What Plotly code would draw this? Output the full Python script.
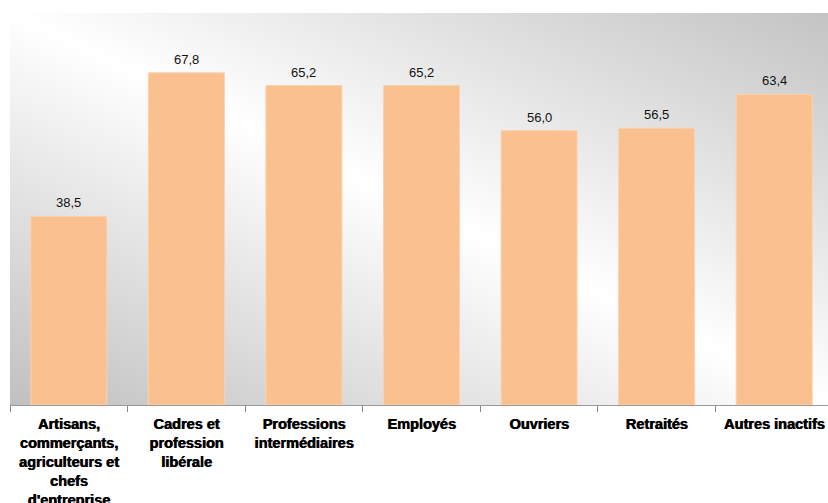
import base64
import plotly.graph_objects as go

categories = [
    "Artisans,<br>commerçants,<br>agriculteurs et<br>chefs<br>d'entreprise",
    "Cadres et<br>profession<br>libérale",
    "Professions<br>intermédiaires",
    "Employés",
    "Ouvriers",
    "Retraités",
    "Autres inactifs",
]
values = [38.5, 67.8, 65.2, 65.2, 56.0, 56.5, 63.4]

svg = (
    "<svg xmlns='http://www.w3.org/2000/svg' width='400' height='200' preserveAspectRatio='none'>"
    "<defs><linearGradient id='g' x1='0' y1='1' x2='1' y2='0'>"
    "<stop offset='0' stop-color='#c0c0c0'/>"
    "<stop offset='0.5' stop-color='#ffffff'/>"
    "<stop offset='1' stop-color='#c3c3c3'/>"
    "</linearGradient></defs>"
    "<rect width='400' height='200' fill='url(#g)'/></svg>"
)
bg_src = "data:image/svg+xml;base64," + base64.b64encode(svg.encode()).decode()

fig = go.Figure()
fig.add_trace(go.Bar(
    x=categories,
    y=values,
    width=0.646,
    marker=dict(color="#FAC090", line=dict(color="#FBD2AE", width=1)),
    hoverinfo="skip",
))

for c, v in zip(categories, values):
    fig.add_annotation(
        x=c, y=v, xref="x", yref="y",
        text=f"{v:.1f}".replace(".", ","),
        showarrow=False, yanchor="bottom", yshift=4,
        font=dict(family="Liberation Sans, Arial, sans-serif", size=13, color="#111111"),
    )

fig.update_layout(
    width=833,
    height=503,
    margin=dict(l=10, r=0, t=13, b=98, autoexpand=False),
    paper_bgcolor="white",
    plot_bgcolor="rgba(0,0,0,0)",
    showlegend=False,
    images=[dict(
        source=bg_src, xref="paper", yref="paper", x=0, y=1,
        sizex=1, sizey=1, sizing="stretch", layer="below",
        xanchor="left", yanchor="top",
    )],
    xaxis=dict(
        type="category",
        range=[-0.5, 6.5],
        automargin=False,
        showgrid=False,
        showline=True,
        linecolor="#999999",
        linewidth=1,
        ticks="outside",
        tickson="boundaries",
        ticklen=6,
        tickcolor="#888888",
        tickwidth=1,
        tickangle=0,
        ticklabelstandoff=6,
        tickfont=dict(family="Liberation Sans, Arial, sans-serif", size=14.5, color="#000000",
                      weight="bold", shadow="0.7px 0px 0px #000000"),
        fixedrange=True,
    ),
    yaxis=dict(
        range=[0, 80],
        visible=False,
        automargin=False,
        showgrid=False,
        zeroline=False,
        fixedrange=True,
    ),
)

fig.write_html(
    "out.html",
    config={"displayModeBar": False, "staticPlot": True},
    post_script="document.documentElement.style.overflow='hidden';"
                "document.body.style.margin='0';document.body.style.overflow='hidden';",
)
